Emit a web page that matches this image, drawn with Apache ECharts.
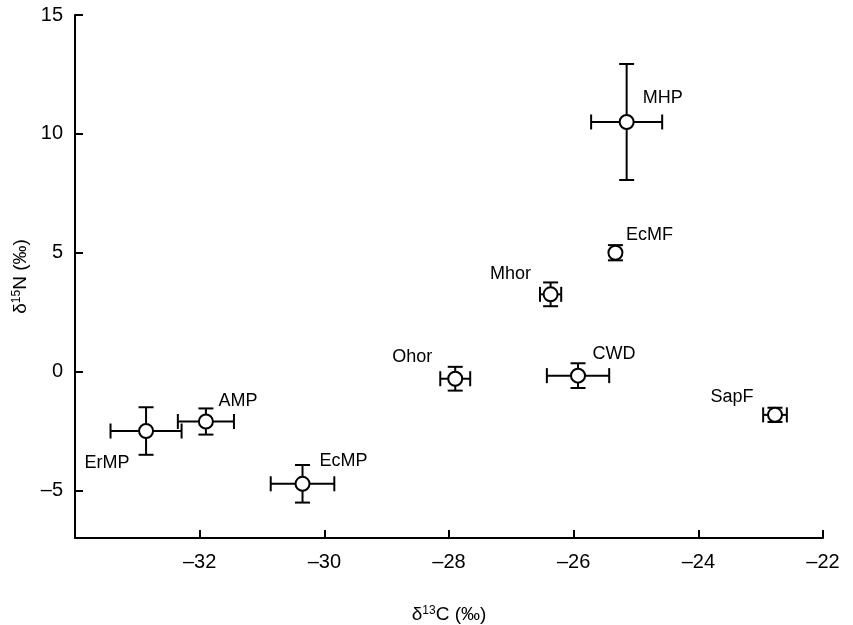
<!DOCTYPE html>
<html>
<head>
<meta charset="utf-8">
<script src="https://cdn.jsdelivr.net/npm/echarts@6/dist/echarts.min.js"></script>
<style>
  html, body { margin: 0; padding: 0; background: #fff; }
  #chart { width: 853px; height: 625px; }
</style>
</head>
<body>
<div id="chart"></div>
<script>
// groups and their mean ± error
var groups = ['MHP', 'EcMF', 'Mhor', 'Ohor', 'CWD', 'SapF', 'ErMP', 'AMP', 'EcMP']
var d13C = [-25.15, -25.33, -26.37, -27.9, -25.93, -22.77, -32.86, -31.9, -30.35]
var d15N = [10.5, 5.0, 3.25, -0.3, -0.17, -1.82, -2.5, -2.1, -4.72]
var d13CErr = [0.57, 0, 0.17, 0.24, 0.5, 0.19, 0.57, 0.45, 0.51]
var d15NErr = [2.44, 0.32, 0.5, 0.5, 0.52, 0.3, 1.0, 0.55, 0.79]
var xTicks = [-32, -30, -28, -26, -24, -22]
var yTicks = [-5, 0, 5, 10, 15]

// where each label sits relative to its point (px)
var labelOffset = {
  MHP: [36, -24], EcMF: [34, -18], Mhor: [-40, -20], Ohor: [-43, -22],
  CWD: [36, -22], SapF: [-43, -18], ErMP: [-39, 32], AMP: [32, -20], EcMP: [41, -23]
}

var font = '"Liberation Sans", Arial, Helvetica, sans-serif'
var dash = function (v) { return String(v).replace('-', '\u2013') }

var chart = echarts.init(document.getElementById('chart'))

// error bars drawn through the axes' scales
function renderErrorBar (params, api) {
  var x = api.value(0)
  var y = api.value(1)
  var ex = api.value(2)
  var ey = api.value(3)
  var cap = 7.5
  var style = { stroke: '#000', lineWidth: 2 }
  var children = []
  if (ex > 0) {
    var l = api.coord([x - ex, y])
    var r = api.coord([x + ex, y])
    children.push({ type: 'line', shape: { x1: l[0], y1: l[1], x2: r[0], y2: r[1] }, style: style })
    children.push({ type: 'line', shape: { x1: l[0], y1: l[1] - cap, x2: l[0], y2: l[1] + cap }, style: style })
    children.push({ type: 'line', shape: { x1: r[0], y1: r[1] - cap, x2: r[0], y2: r[1] + cap }, style: style })
  }
  if (ey > 0) {
    var t = api.coord([x, y + ey])
    var b = api.coord([x, y - ey])
    children.push({ type: 'line', shape: { x1: t[0], y1: t[1], x2: b[0], y2: b[1] }, style: style })
    children.push({ type: 'line', shape: { x1: t[0] - cap, y1: t[1], x2: t[0] + cap, y2: t[1] }, style: style })
    children.push({ type: 'line', shape: { x1: b[0] - cap, y1: b[1], x2: b[0] + cap, y2: b[1] }, style: style })
  }
  return { type: 'group', children: children }
}

var axisLine = { show: true, onZero: false, lineStyle: { color: '#000', width: 2 } }
var nameRich = {
  b: { fontSize: 19, fontFamily: font, color: '#000' },
  sup: { fontSize: 12, fontFamily: font, color: '#000', verticalAlign: 'top', padding: [0, 0, 8, 0] }
}

chart.setOption({
  animation: false,
  textStyle: { fontFamily: font, color: '#000' },
  grid: { left: 75, right: 30, top: 15, bottom: 87, containLabel: false, outerBoundsMode: 'none' },
  xAxis: {
    type: 'value',
    min: -34,
    max: -22,
    name: '{b|\u03b4}{sup|13}{b|C (\u2030)}',
    nameLocation: 'middle',
    nameGap: 67,
    nameTextStyle: { fontSize: 19, color: '#000', rich: nameRich },
    axisLine: axisLine,
    axisTick: { show: true, inside: true, length: 8, lineStyle: { color: '#000', width: 2 }, customValues: xTicks },
    axisLabel: { fontSize: 20, color: '#000', margin: 14, customValues: xTicks, formatter: dash },
    splitLine: { show: false }
  },
  yAxis: {
    type: 'value',
    min: -7,
    max: 15,
    name: '{b|\u03b4}{sup|15}{b|N (\u2030)}',
    nameLocation: 'middle',
    nameRotate: 90,
    nameGap: 44,
    nameTextStyle: { fontSize: 19, color: '#000', rich: nameRich },
    axisLine: axisLine,
    axisTick: { show: true, inside: true, length: 8, lineStyle: { color: '#000', width: 2 }, customValues: yTicks },
    axisLabel: { fontSize: 20, color: '#000', margin: 12, customValues: yTicks, formatter: dash },
    splitLine: { show: false }
  },
  series: [
    {
      type: 'custom',
      renderItem: renderErrorBar,
      encode: { x: 0, y: 1 },
      clip: false,
      z: 2,
      data: groups.map(function (g, i) {
        return [d13C[i], d15N[i], d13CErr[i], d15NErr[i]]
      })
    },
    {
      type: 'scatter',
      symbol: 'circle',
      symbolSize: 14,
      z: 3,
      itemStyle: { color: '#fff', borderColor: '#000', borderWidth: 2, opacity: 1 },
      label: {
        show: true,
        position: 'inside',
        fontSize: 18,
        color: '#000',
        fontFamily: font,
        formatter: function (p) { return p.name }
      },
      emphasis: { disabled: true },
      data: groups.map(function (g, i) {
        return { name: g, value: [d13C[i], d15N[i]], label: { offset: labelOffset[g] } }
      })
    }
  ]
})
</script>
</body>
</html>
